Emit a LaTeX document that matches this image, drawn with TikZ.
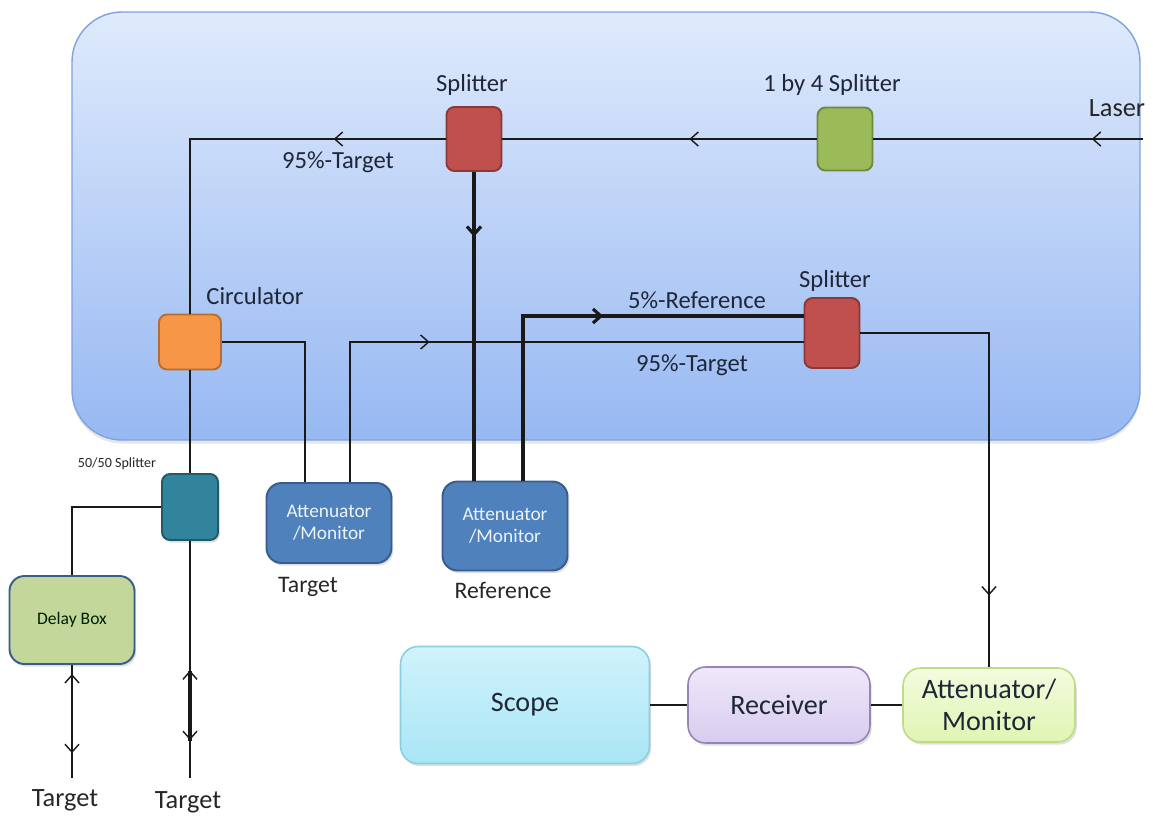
\documentclass[tikz,border=0pt]{standalone}
\usepackage{fontspec}
\setmainfont{Carlito}
\usetikzlibrary{arrows.meta,decorations.markings,calc,positioning,shadows}
\definecolor{pantop}{HTML}{DFEAFC}
\definecolor{panbot}{HTML}{97B8F2}
\definecolor{panedge}{HTML}{7EA3DE}
\definecolor{splred}{HTML}{C0504D}
\definecolor{splredd}{HTML}{8C3836}
\definecolor{quadg}{HTML}{9BBB59}
\definecolor{quadgd}{HTML}{71893F}
\definecolor{circo}{HTML}{F79646}
\definecolor{circod}{HTML}{B66D31}
\definecolor{bsteal}{HTML}{31849B}
\definecolor{bsteald}{HTML}{215968}
\definecolor{attb}{HTML}{4F81BD}
\definecolor{attbd}{HTML}{385D8A}
\definecolor{delayg}{HTML}{C4D79B}
\definecolor{scopetop}{HTML}{D0F3FC}
\definecolor{scopebot}{HTML}{A9E5F5}
\definecolor{scopeedge}{HTML}{8ACFDE}
\definecolor{recvtop}{HTML}{EEE8F9}
\definecolor{recvbot}{HTML}{D8CCEF}
\definecolor{recvedge}{HTML}{9485B5}
\definecolor{attmtop}{HTML}{F3FBDE}
\definecolor{attmbot}{HTML}{E0F5B2}
\definecolor{attmedge}{HTML}{BCDC88}
\definecolor{txt}{HTML}{1E2638}
\begin{document}
\begin{tikzpicture}[x=0.02cm,y=-0.02cm,
  box/.style={draw,line width=1.1pt,rounded corners=0.16cm,inner sep=0pt,align=center},
  shadowed/.style={drop shadow={shadow xshift=1pt,shadow yshift=-1.5pt,opacity=0.25}},
  att/.style={box,shadowed,fill=attb,draw=attbd,rounded corners=0.3cm,minimum width=2.5cm,text=white!90!attb,font=\fontsize{11}{12.5}\selectfont},
  big/.style={box,shadowed,line width=0.9pt,rounded corners=0.35cm,text=txt,font=\fontsize{16}{18}\selectfont},
  wire/.style={line width=0.8pt,draw=black!90},
  heavy/.style={line width=1.8pt},
  arrowat/.style={postaction={decorate},decoration={markings,mark=at position #1 with {\arrow{Straight Barb[length=4.5pt,width=8pt]}}}},
  twoway/.style 2 args={postaction={decorate},decoration={markings,mark=at position #1 with {\arrowreversed{Straight Barb[length=4.5pt,width=8pt]}},mark=at position #2 with {\arrow{Straight Barb[length=4.5pt,width=8pt]}}}},
  lbl/.style={text=txt,inner sep=0pt,font=\fontsize{14}{16}\selectfont},
  outlbl/.style={text=black!85,inner sep=0pt,font=\fontsize{15}{17}\selectfont}]
\useasboundingbox (0,0) rectangle (1153,816);
\draw[line width=0.8pt,draw=panedge,top color=pantop,bottom color=panbot,rounded corners=1cm,drop shadow={shadow xshift=0pt,shadow yshift=-2pt,opacity=0.2}] (72,12) rectangle (1140,440);
\node[box,fill=quadg,draw=quadgd,minimum width=1.1cm,minimum height=1.26cm] (quad) at (845,139) {};
\node[box,fill=splred,draw=splredd,minimum width=1.1cm,minimum height=1.28cm] (spl1) at (474,139) {};
\node[box,fill=splred,draw=splredd,minimum width=1.1cm,minimum height=1.4cm] (spl2) at (832,333) {};
\node[box,fill=circo,draw=circod,minimum width=1.24cm,minimum height=1.1cm] (circ) at (190,342) {};
\node[box,shadowed,fill=bsteal,draw=bsteald,minimum width=1.12cm,minimum height=1.32cm] (bs) at (190,507) {};
\node[box,shadowed,fill=delayg,draw=attbd,rounded corners=0.3cm,minimum width=2.5cm,minimum height=1.76cm,text=black!80!green!60!black,font=\fontsize{10}{12}\selectfont] (delay) at (72,620) {Delay Box};
\node[att,minimum height=1.6cm] (attT) at (329,523) {Attenuator\\/Monitor};
\node[att,minimum height=1.78cm] (attR) at (505,526) {Attenuator\\/Monitor};
\node[big,top color=scopetop,bottom color=scopebot,draw=scopeedge,minimum width=4.98cm,minimum height=2.34cm] (scope) at (525,705) {Scope};
\node[big,top color=recvtop,bottom color=recvbot,draw=recvedge,minimum width=3.64cm,minimum height=1.52cm] (recv) at (779,705) {Receiver};
\node[big,top color=attmtop,bottom color=attmbot,draw=attmedge,minimum width=3.44cm,minimum height=1.48cm] (attM) at (989,705) {Attenuator/\\Monitor};
\node[outlbl] (laserlbl) at (1117,108) {Laser};
\node[lbl] (quadlbl) at (832,85) {1 by 4 Splitter};
\node[lbl] (spl1lbl) at (472,85) {Splitter};
\node[lbl] (spl2lbl) at (835,281) {Splitter};
\node[lbl] (circlbl) at (255,296) {Circulator};
\node[lbl] (tgt1lbl) at (338,162) {95\%-Target};
\node[lbl] (reflbl) at (697,300) {5\%-Reference};
\node[lbl] (tgt2lbl) at (692,365) {95\%-Target};
\node[text=black!85,inner sep=0pt,font=\fontsize{8}{10}\selectfont] (bslbl) at (117,464) {50/50 Splitter};
\node[outlbl,font=\fontsize{13.5}{16}\selectfont] (attTlbl) at (308,587) {Target};
\node[outlbl,font=\fontsize{13.5}{16}\selectfont] (attRlbl) at (503,590) {Reference};
\node[outlbl] (tgtA) at (65,800) {Target};
\node[outlbl] (tgtB) at (188,802) {Target};
\coordinate (laser) at (1143,139);
\coordinate (tgtAend) at (72,778);
\coordinate (tgtBend) at (190,778);
\draw[wire,arrowat=0.19] (laser) -- (quad.east);
\draw[wire,arrowat=0.405] (quad.west) -- (spl1.east);
\draw[wire,arrowat=0.26] (spl1.west) -| (circ.north);
\draw[wire] (circ.east) -| ($(attT.north)+(-24,0)$);
\draw[wire,arrowat=0.37] ($(attT.north)+(21,0)$) |- ($(spl2.west)+(0,9)$);
\draw[wire,heavy,arrowat=0.21] (spl1.south) -- ($(attR.north)+(-31,0)$);
\draw[wire,heavy,arrowat=0.55] ($(attR.north)+(18,0)$) |- ($(spl2.west)+(0,-17)$);
\draw[wire,arrowat=0.845] (spl2.east) -| (attM.north);
\draw[wire] (circ.south) -- (bs.north);
\draw[wire] (bs.west) -| (delay.north);
\draw[wire,twoway={0.08}{0.78}] (delay.south) -- (tgtAend);
\draw[wire,twoway={0.546}{0.84}] (bs.south) -- (tgtBend);
\draw[wire,heavy] ($(bs.south)+(0,130)$) -- ($(bs.south)+(0,200)$);
\draw[wire] (scope.east) -- (recv.west);
\draw[wire] (recv.east) -- (attM.west);
\end{tikzpicture}
\end{document}
